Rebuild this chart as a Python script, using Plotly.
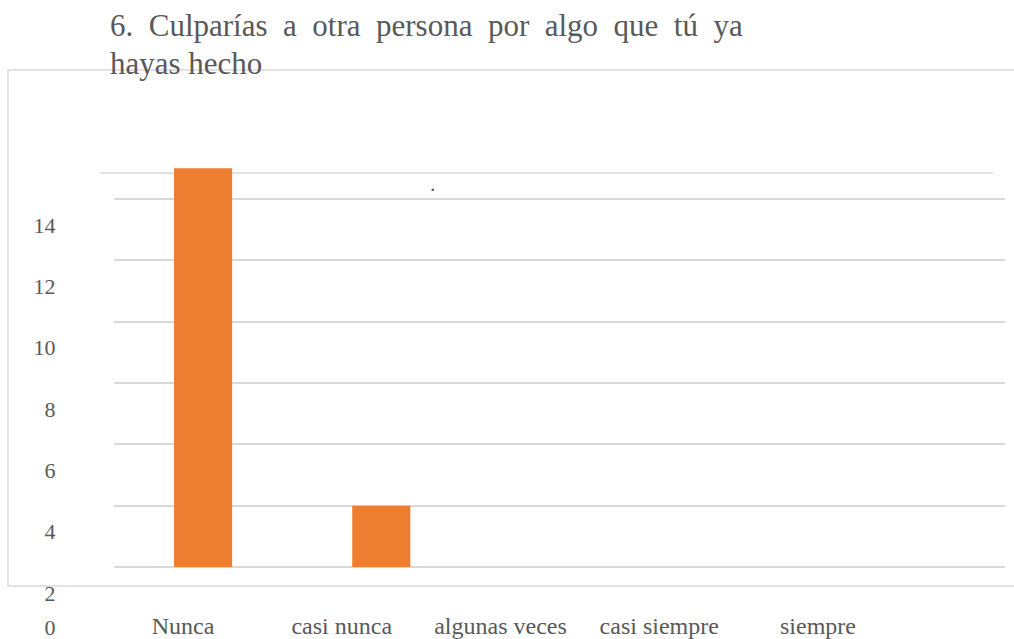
import plotly.graph_objects as go

categories = ["Nunca", "casi nunca", "algunas veces", "casi siempre", "siempre"]
values = [13, 2, 0, 0, 0]
grid_values = [0, 2, 4, 6, 8, 10, 12]
y_tick_labels = ["0", "2", "4", "6", "8", "10", "12", "14"]
y_tick_label_pos = [0.89, 2, 4, 6, 8, 10, 12, 14]
title_line1 = "6.\u00a0 Culparías\u00a0 a\u00a0 otra\u00a0 persona\u00a0 por\u00a0 algo\u00a0 que\u00a0 tú\u00a0 ya"
title_line2 = "hayas hecho"

FONT = "Liberation Serif, Times New Roman, serif"
GRAY = "#595959"
GRID = "#d9d9d9"
H, T = 639, 60
PH = H - T


def py(pix):
    """paper y fraction for a pixel row"""
    return (H - pix) / PH


fig = go.Figure()
fig.add_trace(go.Bar(x=categories, y=values, marker_color="#ED7D31",
                     marker_line_width=0, showlegend=False, hoverinfo="x+y"))
# helper trace so the secondary category axis (label row) is drawn
fig.add_trace(go.Scatter(x=categories, y=values, xaxis="x2", yaxis="y2",
                         mode="markers", marker=dict(opacity=0),
                         showlegend=False, hoverinfo="skip"))

fig.update_layout(
    width=1014, height=H,
    margin=dict(l=114, r=9, t=T, b=0, autoexpand=False),
    paper_bgcolor="white", plot_bgcolor="white",
    bargap=0.674,
    xaxis=dict(type="category", categoryarray=categories, range=[-0.5, 4.5],
               showticklabels=False, showgrid=False, zeroline=False, showline=False,
               ticks="", automargin=False),
    xaxis2=dict(type="category", categoryarray=categories, overlaying="x",
                anchor="free", position=py(609), side="bottom",
                range=[-0.4346, 5.178], showgrid=False, zeroline=False,
                showline=False, ticks="", automargin=False,
                ticklabeloverflow="allow",
                tickfont=dict(family=FONT, size=24, color=GRAY)),
    yaxis=dict(range=[-2.348, 16.533], tickmode="array", tickvals=grid_values,
               showticklabels=False, showgrid=True, gridcolor=GRID, gridwidth=1.5,
               zeroline=False, showline=False, ticks="", automargin=False),
    yaxis2=dict(overlaying="y", anchor="x", side="left",
                range=[0.5, 19.38], tickmode="array",
                tickvals=y_tick_label_pos, ticktext=y_tick_labels,
                showgrid=False, zeroline=False, showline=False, automargin=False,
                ticklabeloverflow="allow",
                ticks="outside", ticklen=53, tickcolor="rgba(0,0,0,0)",
                tickfont=dict(family=FONT, size=22, color=GRAY)),
    shapes=[
        dict(type="rect", xref="paper", yref="paper",
             x0=-0.119, x1=1.0123, y0=py(586), y1=py(70),
             line=dict(color=GRID, width=1.5), layer="below"),
        dict(type="line", xref="paper", yref="y",
             x0=-0.0157, x1=0.9865, y0=12.85, y1=12.85,
             line=dict(color=GRID, width=1.5), layer="below"),
    ],
    annotations=[
        dict(text=title_line1, x=-6 / 891, y=py(26), xref="paper", yref="paper",
             xanchor="left", yanchor="middle", showarrow=False,
             font=dict(family=FONT, size=31, color=GRAY)),
        dict(text=title_line2, x=-6 / 891, y=py(63), xref="paper", yref="paper",
             xanchor="left", yanchor="middle", showarrow=False,
             font=dict(family=FONT, size=31, color=GRAY)),
        dict(text=".", x=1.292, y=12.04, xref="x", yref="y",
             xanchor="center", yanchor="bottom", showarrow=False,
             font=dict(family=FONT, size=22, color=GRAY)),
    ],
)

fig.write_html("out.html", config={"displayModeBar": False},
               post_script="document.body.style.margin='0px';document.body.style.overflow='hidden';")
